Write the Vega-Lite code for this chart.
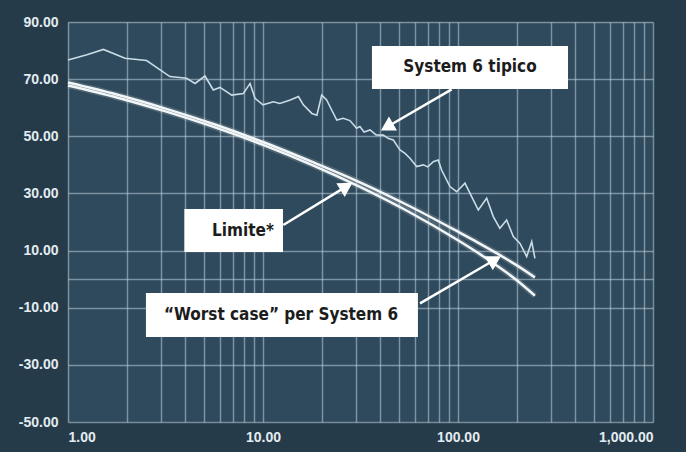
{
  "$schema": "https://vega.github.io/schema/vega-lite/v6.json",
  "width": 585,
  "height": 400,
  "autosize": {"type": "none"},
  "padding": {"left": 68, "top": 22, "right": 33, "bottom": 30},
  "background": "#263b49",
  "config": {
    "view": {"fill": "#2f4a5c", "stroke": null},
    "axis": {
      "labelFont": "Liberation Sans",
      "labelFontWeight": "bold",
      "labelFontSize": 14,
      "labelColor": "#e3ecf1",
      "ticks": false,
      "domain": false,
      "title": null,
      "gridColor": "#b9d0de",
      "gridOpacity": 0.55,
      "gridWidth": 1.5
    }
  },
  "datasets": {
    "curves": [
      {"x": 1, "y": 68.8, "series": "Limite"},
      {"x": 1.778, "y": 64.6, "series": "Limite"},
      {"x": 3.162, "y": 59.7, "series": "Limite"},
      {"x": 5.623, "y": 54.2, "series": "Limite"},
      {"x": 10, "y": 48.0, "series": "Limite"},
      {"x": 17.78, "y": 41.1, "series": "Limite"},
      {"x": 31.62, "y": 33.8, "series": "Limite"},
      {"x": 56.23, "y": 25.6, "series": "Limite"},
      {"x": 100, "y": 16.6, "series": "Limite"},
      {"x": 125.9, "y": 12.9, "series": "Limite"},
      {"x": 158.5, "y": 9.0, "series": "Limite"},
      {"x": 199.5, "y": 4.9, "series": "Limite"},
      {"x": 248, "y": 0.6, "series": "Limite"},
      {"x": 1, "y": 67.8, "series": "Worst"},
      {"x": 1.778, "y": 63.6, "series": "Worst"},
      {"x": 3.162, "y": 58.7, "series": "Worst"},
      {"x": 5.623, "y": 53.2, "series": "Worst"},
      {"x": 10, "y": 47.0, "series": "Worst"},
      {"x": 17.78, "y": 40.0, "series": "Worst"},
      {"x": 31.62, "y": 32.2, "series": "Worst"},
      {"x": 56.23, "y": 23.5, "series": "Worst"},
      {"x": 100, "y": 13.6, "series": "Worst"},
      {"x": 125.9, "y": 9.3, "series": "Worst"},
      {"x": 158.5, "y": 4.7, "series": "Worst"},
      {"x": 199.5, "y": -0.3, "series": "Worst"},
      {"x": 248, "y": -5.8, "series": "Worst"}
    ],
    "typical": [
      {"x": 1, "y": 76.7}, {"x": 1.25, "y": 78.5}, {"x": 1.52, "y": 80.4}, {"x": 1.96, "y": 77.3},
      {"x": 2.53, "y": 76.5}, {"x": 3.33, "y": 70.9}, {"x": 4.06, "y": 70.3}, {"x": 4.48, "y": 68.5},
      {"x": 5.04, "y": 71.1}, {"x": 5.56, "y": 66.2}, {"x": 6.02, "y": 67.1}, {"x": 6.91, "y": 64.4},
      {"x": 7.93, "y": 65.0}, {"x": 8.58, "y": 68.5}, {"x": 9.1, "y": 63.3}, {"x": 10.0, "y": 61.0},
      {"x": 11.3, "y": 62.1}, {"x": 12.2, "y": 61.5}, {"x": 13.8, "y": 62.7}, {"x": 15.2, "y": 63.9},
      {"x": 16.1, "y": 61.0}, {"x": 17.8, "y": 58.0}, {"x": 18.9, "y": 57.4}, {"x": 20.0, "y": 64.4},
      {"x": 21.2, "y": 62.7}, {"x": 22.5, "y": 59.2}, {"x": 23.9, "y": 55.7}, {"x": 25.8, "y": 56.3},
      {"x": 27.9, "y": 55.5}, {"x": 30.2, "y": 52.8}, {"x": 31.4, "y": 53.4}, {"x": 33.0, "y": 51.5},
      {"x": 35.4, "y": 52.2}, {"x": 38.0, "y": 50.5}, {"x": 41.4, "y": 50.4}, {"x": 44.0, "y": 49.2},
      {"x": 46.6, "y": 48.7}, {"x": 48.5, "y": 46.9}, {"x": 50.4, "y": 45.2}, {"x": 53.5, "y": 44.0},
      {"x": 56.7, "y": 42.3}, {"x": 61.4, "y": 39.4}, {"x": 66.4, "y": 40.0}, {"x": 70.0, "y": 39.3},
      {"x": 74.7, "y": 41.1}, {"x": 79.2, "y": 41.7}, {"x": 82.4, "y": 38.2}, {"x": 90.9, "y": 32.4},
      {"x": 98.4, "y": 30.6}, {"x": 108.6, "y": 33.6}, {"x": 117.5, "y": 28.9}, {"x": 127.1, "y": 24.2},
      {"x": 140.3, "y": 28.3}, {"x": 151.7, "y": 21.9}, {"x": 164, "y": 17.8}, {"x": 177.6, "y": 20.7},
      {"x": 192.2, "y": 14.9}, {"x": 208, "y": 12.5}, {"x": 225, "y": 7.9}, {"x": 238.8, "y": 13.1},
      {"x": 248, "y": 7.3}
    ],
    "boxes": [
      {"x": 36.2, "x2": 366.6, "y": 81.6, "y2": 66.55},
      {"x": 3.95, "x2": 12.66, "y": 24.55, "y2": 9.5},
      {"x": 2.51, "x2": 62.3, "y": -4.85, "y2": -20.25}
    ],
    "labels": [
      {"x": 115.2, "y": 74.1, "text": "System 6 tipico"},
      {"x": 7.9, "y": 17.0, "text": "Limite*"},
      {"x": 12.37, "y": -12.55, "text": "\u201cWorst case\u201d per System 6"}
    ],
    "arrows": [
      {"x": 92.8, "y": 66.44, "x2": 43.2, "y2": 53.25},
      {"x": 12.71, "y": 18.95, "x2": 26.8, "y2": 32.45},
      {"x": 63.85, "y": -8.46, "x2": 154.4, "y2": 6.8}
    ]
  },
  "encoding": {
    "x": {
      "field": "x", "type": "quantitative",
      "scale": {"type": "log", "domain": [1, 1000], "nice": false},
      "axis": {
        "values": [1,2,3,4,5,6,7,8,9,10,20,30,40,50,60,70,80,90,100,200,300,400,500,600,700,800,900,1000],
        "labelExpr": "indexof([1,10,100,1000], datum.value) >= 0 ? format(datum.value, ',.2f') : ''",
        "labelPadding": 8,
        "labelOverlap": false
      }
    },
    "y": {
      "field": "y", "type": "quantitative",
      "scale": {"domain": [-50, 90], "nice": false},
      "axis": {
        "values": [90, 70, 50, 30, 10, 0, -10, -30, -50],
        "labelExpr": "datum.value == 0 ? '' : replace(format(datum.value, '.2f'), '\u2212', '-')",
        "labelPadding": 10,
        "labelOverlap": false
      }
    }
  },
  "layer": [
    {
      "data": {"name": "curves"},
      "mark": {"type": "line", "stroke": "#ffffff", "strokeWidth": 6, "opacity": 0.15, "interpolate": "monotone"},
      "encoding": {"detail": {"field": "series"}}
    },
    {
      "data": {"name": "curves"},
      "mark": {"type": "line", "stroke": "#f2f6f8", "strokeWidth": 2.5, "interpolate": "monotone"},
      "encoding": {"detail": {"field": "series"}}
    },
    {
      "data": {"name": "typical"},
      "mark": {"type": "line", "stroke": "#c9dce7", "strokeWidth": 1.6}
    },
    {
      "data": {"name": "boxes"},
      "mark": {"type": "rect", "fill": "#ffffff"},
      "encoding": {"x2": {"field": "x2"}, "y2": {"field": "y2"}}
    },
    {
      "data": {"name": "labels"},
      "mark": {"type": "text", "font": "'DejaVu Sans Condensed', 'DejaVu Sans', sans-serif", "fontWeight": "bold", "fontSize": 17, "color": "#1c1c1c", "align": "center", "baseline": "middle"},
      "encoding": {"text": {"field": "text"}}
    },
    {
      "data": {"name": "arrows"},
      "mark": {"type": "rule", "color": "#ffffff", "strokeWidth": 2.5},
      "encoding": {"x2": {"field": "x2"}, "y2": {"field": "y2"}}
    },
    {
      "data": {"values": [{"x": 43.2, "y": 53.25}]},
      "mark": {"type": "point", "shape": "triangle-up", "filled": true, "color": "#ffffff", "opacity": 1, "size": 260, "angle": 240}
    },
    {
      "data": {"values": [{"x": 26.8, "y": 32.45}]},
      "mark": {"type": "point", "shape": "triangle-up", "filled": true, "color": "#ffffff", "opacity": 1, "size": 260, "angle": 58.7}
    },
    {
      "data": {"values": [{"x": 154.4, "y": 6.8}]},
      "mark": {"type": "point", "shape": "triangle-up", "filled": true, "color": "#ffffff", "opacity": 1, "size": 260, "angle": 59.8}
    }
  ]
}
